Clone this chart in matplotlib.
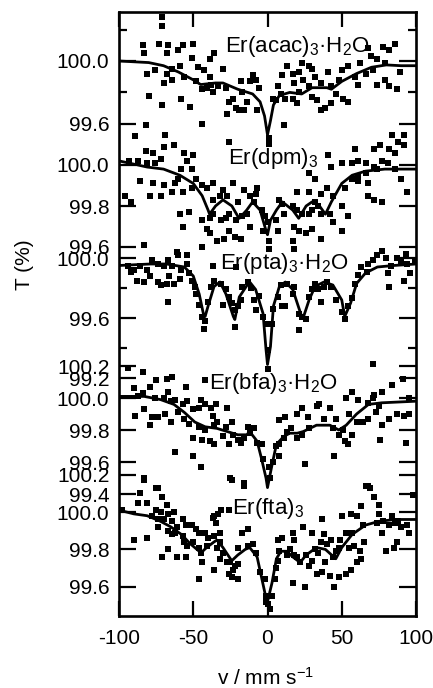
import matplotlib
matplotlib.use('Agg')
import matplotlib.pyplot as plt
from matplotlib.ticker import FixedLocator

plt.rcParams['font.family'] = ['Liberation Sans', 'DejaVu Sans']
plt.rcParams['mathtext.fontset'] = 'custom'
plt.rcParams['mathtext.rm'] = 'Liberation Sans'
plt.rcParams['mathtext.it'] = 'Liberation Sans:italic'
plt.rcParams['mathtext.bf'] = 'Liberation Sans:bold'
plt.rcParams['axes.unicode_minus'] = False

# ---------------- data ----------------
x_ticks = [-100, -50, 0, 50, 100]
x_ticklabels = ['-100', '-50', '0', '50', '100']

names = ['Er(acac)$_\\mathregular{3}$·H$_\\mathregular{2}$O',
         'Er(dpm)$_\\mathregular{3}$',
         'Er(pta)$_\\mathregular{3}$·H$_\\mathregular{2}$O',
         'Er(bfa)$_\\mathregular{3}$·H$_\\mathregular{2}$O',
         'Er(fta)$_\\mathregular{3}$']

# fitted curves (v, T%)
fit_acac = [(-100, 100.00), (-80, 99.99), (-70, 99.97), (-60, 99.93), (-50, 99.88), (-45, 99.85),
            (-35, 99.86), (-30, 99.86), (-20, 99.82), (-10, 99.79), (-5, 99.74), (-2, 99.65),
            (0, 99.53), (2, 99.62), (4, 99.72), (8, 99.78), (15, 99.80), (23, 99.79), (30, 99.83),
            (40, 99.83), (43, 99.82), (50, 99.87), (60, 99.92), (70, 99.96), (80, 99.975),
            (90, 99.97), (100, 99.97)]
fit_dpm = [(-100, 100.02), (-81, 99.99), (-70, 99.98), (-59, 99.95), (-50, 99.91), (-44, 99.85),
           (-40, 99.78), (-39, 99.76), (-35, 99.80), (-30, 99.83), (-24, 99.80), (-20, 99.75),
           (-19, 99.74), (-14, 99.78), (-10, 99.82), (-5, 99.78), (-1, 99.68), (0, 99.66),
           (2, 99.73), (6, 99.78), (10, 99.82), (17, 99.78), (21, 99.74), (26, 99.80), (30, 99.82),
           (35, 99.80), (39, 99.76), (43, 99.82), (50, 99.91), (57, 99.95), (66, 99.97),
           (79, 99.98), (100, 99.98)]
fit_pta = [(-100, 99.95), (-79, 99.96), (-68, 99.96), (-56, 99.94), (-50, 99.88), (-46, 99.76),
           (-43, 99.62), (-42, 99.61), (-40, 99.68), (-36, 99.81), (-32, 99.84), (-28, 99.76),
           (-23, 99.61), (-22, 99.59), (-19, 99.74), (-13, 99.83), (-12, 99.84), (-8, 99.79),
           (-3, 99.63), (-1, 99.39), (0, 99.29), (2, 99.41), (4, 99.68), (8, 99.81), (12, 99.84),
           (17, 99.79), (23, 99.61), (24, 99.60), (28, 99.72), (32, 99.81), (38, 99.84),
           (44, 99.82), (50, 99.72), (52, 99.61), (56, 99.70), (60, 99.83), (66, 99.90),
           (74, 99.94), (85, 99.95), (100, 99.96)]
fit_bfa = [(-100, 100.01), (-83, 100.01), (-72, 99.99), (-63, 99.96), (-56, 99.91), (-49, 99.85),
           (-42, 99.82), (-34, 99.81), (-27, 99.79), (-20, 99.77), (-14, 99.77), (-12, 99.79),
           (-7, 99.73), (-4, 99.62), (-1, 99.50), (0, 99.44), (3, 99.58), (6, 99.71), (11, 99.76),
           (15, 99.78), (20, 99.78), (24, 99.79), (33, 99.83), (42, 99.83), (48, 99.80),
           (53, 99.83), (60, 99.90), (68, 99.96), (77, 99.97), (100, 99.98)]
fit_fta = [(-100, 100.01), (-90, 99.99), (-81, 99.98), (-72, 99.95), (-65, 99.92), (-58, 99.88),
           (-52, 99.83), (-46, 99.79), (-45, 99.78), (-41, 99.81), (-36, 99.84), (-34, 99.85),
           (-30, 99.81), (-25, 99.75), (-24, 99.74), (-20, 99.77), (-15, 99.80), (-12, 99.81),
           (-7, 99.76), (-4, 99.65), (-1, 99.54), (0, 99.52), (3, 99.62), (6, 99.75), (9, 99.79),
           (13, 99.79), (17, 99.76), (22, 99.73), (26, 99.77), (33, 99.81), (39, 99.80),
           (46, 99.75), (50, 99.81), (57, 99.88), (66, 99.93), (75, 99.95), (86, 99.96),
           (100, 99.96)]

# measured points (v, T%)
pts_acac = [(-71, 100.28), (-71, 100.22), (-84, 100.10), (-73, 100.11), (-67, 100.10), (-57, 100.10),
            (-50, 100.11), (-36, 100.05), (-83, 100.05), (-68, 100.05), (-60, 100.07), (-51, 100.02),
            (-39, 100.01), (-47, 99.96), (-30, 99.95), (-81, 99.92), (-76, 99.94), (-68, 99.92),
            (-64, 99.95), (-59, 99.97), (-56, 99.90), (-48, 99.87), (-43, 99.94), (-39, 99.90),
            (-38, 99.85), (-80, 99.78), (-70, 99.86), (-64, 99.88), (-58, 99.76), (-52, 99.71),
            (-44, 99.82), (-41, 99.83), (-37, 99.80), (-33, 99.84), (-28, 99.83), (-26, 99.74),
            (-27, 99.66), (-23, 99.76), (-21, 99.70), (-18, 99.87), (-17, 99.80), (-14, 99.74),
            (-12, 99.87), (-10, 99.91), (-8, 99.88), (-6, 99.83), (-7, 99.69), (-19, 99.69),
            (-16, 99.69), (-44, 99.60), (-71, 99.72), (-82, 99.59), (-89, 99.52), (-69, 99.53),
            (1, 99.51), (1, 99.47), (11, 99.59), (6, 99.75), (9, 99.79), (10, 99.91), (13, 99.97),
            (17, 99.92), (18, 99.86), (21, 99.93), (23, 99.99), (28, 99.97), (30, 99.95),
            (32, 99.90), (36, 99.86), (41, 99.93), (43, 99.84), (46, 99.79), (28, 99.84),
            (24, 99.88), (17, 99.76), (20, 99.73), (30, 99.77), (33, 99.75), (36, 99.69),
            (39, 99.70), (43, 99.73), (51, 99.76), (54, 99.74), (50, 99.94), (54, 99.97),
            (59, 99.90), (62, 99.99), (68, 100.08), (71, 99.94), (74, 100.01), (78, 100.09),
            (79, 99.99), (82, 100.07), (86, 100.11), (89, 99.93), (74, 99.85), (79, 99.88),
            (82, 99.84), (87, 99.82), (61, 99.85), (66, 99.92), (70, 100.03), (84, 99.53),
            (92, 99.53), (7, 99.84), (4, 99.76), (12, 99.76), (48, 99.88), (21, 99.80)]
pts_dpm = [(-70, 100.09), (-63, 100.10), (-82, 100.07), (-77, 100.06), (-87, 100.02), (-81, 100.01),
           (-76, 100.01), (-93, 100.02), (-72, 100.03), (-56, 100.06), (-50, 100.05), (-54, 100.02),
           (-58, 99.98), (-51, 99.98), (-26, 100.11), (1, 100.11), (-86, 99.92), (-77, 99.91),
           (-70, 99.90), (-96, 99.85), (-92, 99.82), (-79, 99.85), (-72, 99.85), (-64, 99.87),
           (-62, 99.91), (-60, 99.93), (-57, 99.87), (-51, 99.89), (-48, 99.93), (-44, 99.90),
           (-41, 99.89), (-37, 99.91), (-30, 99.88), (-37, 99.83), (-32, 99.85), (-27, 99.85),
           (-23, 99.91), (-20, 99.82), (-16, 99.88), (-12, 99.85), (-9, 99.82), (-8, 99.86),
           (-4, 99.78), (-39, 99.74), (-44, 99.73), (-37, 99.76), (-31, 99.73), (-28, 99.74),
           (-26, 99.76), (-21, 99.73), (-17, 99.75), (-14, 99.76), (-2, 99.75), (0, 99.72),
           (-3, 99.68), (1, 99.63), (8, 99.83), (10, 99.81), (11, 99.76), (6, 99.73), (7, 99.68),
           (17, 99.80), (20, 99.78), (23, 99.76), (28, 99.76), (30, 99.78), (32, 99.82),
           (34, 99.80), (36, 99.76), (18, 99.70), (21, 99.68), (26, 99.67), (30, 99.69),
           (36, 99.64), (42, 99.76), (44, 99.72), (50, 99.68), (50, 99.80), (54, 99.75),
           (36, 99.86), (40, 99.89), (44, 99.85), (52, 99.89), (57, 99.93), (61, 99.94),
           (61, 99.92), (66, 99.96), (68, 99.85), (72, 99.83), (77, 99.82), (68, 99.91),
           (72, 99.99), (74, 99.98), (77, 100.02), (81, 100.01), (86, 99.98), (90, 99.93),
           (94, 99.87), (92, 100.10), (88, 100.11), (86, 100.06), (82, 100.08), (76, 100.10),
           (72, 100.08), (59, 100.08), (41, 100.05), (43, 99.99), (50, 100.01), (57, 100.01),
           (61, 100.02), (66, 100.01), (32, 99.93), (28, 99.87), (20, 99.87), (28, 99.96),
           (-39, 99.67), (-34, 99.63), (-29, 99.64), (-22, 99.65), (-18, 99.64), (1, 99.59),
           (-83, 99.61), (-57, 99.70), (-53, 99.77), (-44, 99.60), (17, 99.63), (18, 99.59),
           (-59, 99.76), (-26, 99.68), (-12, 99.70), (-41, 99.69), (-7, 99.89)]
pts_pta = [(-90, 99.92), (-86, 99.95), (-81, 99.92), (-78, 99.99), (-74, 99.96), (-70, 99.95),
           (-67, 99.99), (-64, 99.95), (-61, 100.04), (-60, 100.02), (-54, 100.02), (-54, 99.96),
           (-88, 99.85), (-83, 99.84), (-79, 99.88), (-74, 99.84), (-72, 99.82), (-68, 99.83),
           (-66, 99.88), (-63, 99.83), (-59, 99.86), (-58, 99.92), (-67, 99.71), (-53, 99.90),
           (-51, 99.85), (-49, 99.81), (-48, 99.76), (-46, 99.69), (-44, 99.61), (-43, 99.53),
           (-42, 99.58), (-40, 99.71), (-38, 99.81), (-36, 99.85), (-31, 99.83), (-30, 99.69),
           (-28, 99.79), (-26, 99.74), (-24, 99.70), (-22, 99.65), (-22, 99.54), (-20, 99.68),
           (-18, 99.72), (-17, 99.81), (-13, 99.84), (-11, 99.80), (-9, 99.72), (-8, 99.65),
           (-6, 99.75), (-3, 99.61), (-1, 99.56), (0, 99.39), (0, 99.26), (3, 99.56), (4, 99.66),
           (7, 99.74), (9, 99.82), (10, 99.68), (12, 99.68), (13, 99.83), (17, 99.76), (18, 99.81),
           (21, 99.63), (21, 99.52), (23, 99.61), (26, 99.59), (28, 99.74), (30, 99.79),
           (32, 99.83), (34, 99.79), (36, 99.71), (38, 99.81), (40, 99.84), (43, 99.81),
           (46, 99.72), (50, 99.64), (52, 99.59), (54, 99.68), (57, 99.73), (59, 99.83),
           (61, 99.89), (63, 99.94), (67, 99.91), (68, 99.96), (71, 99.99), (74, 100.02),
           (77, 100.05), (80, 100.00), (83, 99.95), (87, 100.00), (90, 99.98), (93, 100.03),
           (94, 99.96), (96, 99.90), (81, 99.90), (82, 99.81), (92, 99.85), (99, 99.99),
           (-37, 99.95), (-21, 99.94), (-94, 99.95), (-92, 99.91)]
pts_bfa = [(-94, 100.19), (-84, 100.16), (-75, 100.11), (-68, 100.12), (-64, 100.13), (-55, 100.07),
           (-42, 100.11), (-90, 100.06), (-87, 100.01), (-84, 100.03), (-79, 100.07), (-76, 100.00),
           (-70, 100.00), (-67, 100.04), (-65, 99.98), (-62, 99.99), (-57, 99.96), (-54, 99.98),
           (-50, 99.93), (-46, 99.94), (-42, 99.96), (-38, 99.94), (-35, 99.96), (-89, 99.89),
           (-83, 99.93), (-79, 99.83), (-78, 99.88), (-74, 99.88), (-69, 99.90), (-65, 99.85),
           (-60, 99.91), (-56, 99.87), (-53, 99.84), (-50, 99.75), (-46, 99.82), (-44, 99.74),
           (-42, 99.80), (-39, 99.73), (-37, 99.89), (-36, 99.71), (-34, 99.85), (-30, 99.76),
           (-28, 99.82), (-26, 99.71), (-24, 99.85), (-23, 99.77), (-20, 99.74), (-18, 99.72),
           (-16, 99.75), (-13, 99.82), (-12, 99.78), (-9, 99.81), (-7, 99.72), (-4, 99.71),
           (-3, 99.62), (1, 99.57), (4, 99.60), (6, 99.70), (8, 99.71), (11, 99.75), (12, 99.88),
           (13, 99.79), (16, 99.81), (20, 99.75), (23, 99.77), (20, 99.90), (23, 99.94),
           (27, 99.88), (28, 99.81), (33, 99.95), (35, 99.96), (38, 99.87), (42, 99.94),
           (44, 99.81), (46, 99.87), (48, 99.77), (51, 99.80), (52, 99.73), (54, 99.71),
           (57, 99.77), (60, 99.85), (55, 99.90), (53, 100.00), (57, 100.04), (61, 99.99),
           (64, 99.85), (68, 99.87), (73, 99.91), (68, 99.97), (71, 100.00), (75, 99.95),
           (77, 99.83), (82, 99.87), (87, 99.90), (92, 99.89), (95, 99.90), (72, 100.02),
           (77, 100.04), (84, 100.08), (91, 100.12), (95, 100.00), (71, 100.21), (45, 99.64),
           (25, 99.59), (8, 99.64), (-36, 99.83), (-62, 99.66), (-50, 99.64), (-45, 99.57),
           (-25, 99.50), (-16, 99.47), (-83, 99.50), (-75, 99.44), (66, 99.45), (76, 99.74),
           (93, 99.72), (-45, 99.99), (-27, 99.94), (8, 99.86), (2, 99.50)]
pts_fta = [(-98, 100.01), (-83, 100.17), (-74, 100.13), (-86, 100.10), (-81, 100.05), (-87, 100.05),
           (-71, 100.08), (-68, 100.04), (-75, 100.01), (-72, 100.00), (-67, 99.99), (-63, 100.00),
           (-78, 99.98), (-74, 99.96), (-70, 99.96), (-64, 99.95), (-61, 99.92), (-57, 99.96),
           (-55, 99.93), (-90, 99.85), (-81, 99.86), (-74, 99.92), (-67, 99.90), (-64, 99.88),
           (-62, 99.89), (-57, 99.87), (-56, 99.84), (-54, 99.82), (-51, 99.93), (-48, 99.91),
           (-46, 99.89), (-44, 99.89), (-42, 99.89), (-40, 99.86), (-50, 99.84), (-46, 99.81),
           (-45, 99.78), (-44, 99.73), (-41, 99.82), (-36, 99.87), (-34, 99.81), (-32, 99.84),
           (-30, 99.78), (-27, 99.73), (-25, 99.73), (-23, 99.69), (-22, 99.71), (-20, 99.72),
           (-36, 99.69), (-32, 99.75), (-26, 99.67), (-24, 99.65), (-20, 99.64), (-71, 99.76),
           (-67, 99.80), (-61, 99.76), (-55, 99.76), (-46, 99.64), (-37, 99.97), (-36, 99.98),
           (-35, 99.94), (-33, 99.99), (-31, 100.01), (-26, 100.01), (-32, 99.89), (-24, 100.17),
           (-16, 100.14), (-17, 99.89), (-13, 99.91), (-20, 99.81), (-13, 99.82), (-10, 99.83),
           (-8, 99.78), (-5, 99.68), (-2, 99.64), (-1, 99.55), (0, 99.51), (2, 99.48), (-1, 99.52),
           (3, 99.55), (5, 99.64), (6, 99.70), (7, 99.74), (8, 99.79), (7, 99.85), (10, 99.86),
           (13, 99.77), (15, 99.80), (17, 99.89), (18, 99.85), (18, 99.77), (20, 99.76),
           (22, 99.73), (24, 99.92), (26, 99.77), (28, 99.71), (30, 99.89), (32, 99.80),
           (34, 99.78), (36, 99.84), (38, 99.88), (37, 99.96), (40, 99.83), (43, 99.85),
           (44, 99.76), (46, 99.79), (48, 99.81), (49, 99.85), (50, 99.98), (56, 99.99),
           (57, 99.89), (53, 99.89), (55, 99.81), (58, 99.82), (62, 99.79), (63, 100.03),
           (60, 99.98), (64, 99.93), (65, 99.84), (68, 100.14), (69, 100.13), (72, 100.08),
           (75, 99.99), (77, 99.89), (75, 100.04), (74, 99.94), (78, 99.95), (82, 99.93),
           (84, 99.98), (86, 99.94), (88, 99.95), (90, 99.92), (94, 99.93), (98, 100.09),
           (87, 99.84), (85, 99.81), (80, 99.79), (95, 99.89), (17, 99.62), (25, 99.60),
           (33, 99.67), (37, 99.68), (42, 99.66), (45, 99.60), (48, 99.65), (53, 99.67),
           (63, 99.75), (60, 99.73), (56, 99.69), (30, 99.74), (39, 99.73)]

fits = [fit_acac, fit_dpm, fit_pta, fit_bfa, fit_fta]
points = [pts_acac, pts_dpm, pts_pta, pts_bfa, pts_fta]

# y tick values per panel (labelled / unlabelled)
major_ticks = [[100.0, 99.6], [100.0, 99.8, 99.6], [100.0, 99.6, 99.2],
               [100.2, 100.0, 99.8, 99.6, 99.4], [100.2, 100.0, 99.8, 99.6]]
minor_ticks = [[100.2, 99.8], [], [99.8, 99.4], [], []]

# ---------------- layout ----------------
W, H = 433, 688
L, R, T, B = 119, 416, 12, 616
# pixel row of 100.0 and pixels per 1 % for each panel
p100 = [61, 165, 258, 398, 512]
pscale = [157, 205, 150, 160, 187]
label_pos = [(20, 100.09), (4, 100.03), (11, 99.965), (4, 100.09), (0, 100.02)]

fig = plt.figure(figsize=(W / 100, H / 100), dpi=100)
rect = [L / W, 1 - B / H, (R - L) / W, (B - T) / H]

FS = 15
for i in range(5):
    ax = fig.add_axes(rect, label=f'p{i}')
    top = 100 + (p100[i] - T) / pscale[i]
    bot = 100 - (B - p100[i]) / pscale[i]
    ax.set_xlim(-100, 100)
    ax.set_ylim(bot, top)
    xs = [p[0] for p in points[i]]
    ys = [p[1] for p in points[i]]
    ax.plot(xs, ys, 's', color='black', ms=3.9, mew=0, clip_on=True)
    fx = [p[0] for p in fits[i]]
    fy = [p[1] for p in fits[i]]
    ax.plot(fx, fy, '-', color='black', lw=2.0)
    ax.text(label_pos[i][0], label_pos[i][1], names[i], fontsize=16,
            ha='center', va='center', color='black')
    ax.yaxis.set_major_locator(FixedLocator(major_ticks[i]))
    ax.yaxis.set_minor_locator(FixedLocator(minor_ticks[i]))
    ax.set_yticklabels([f'{v:.1f}' for v in major_ticks[i]])
    ax.tick_params(axis='y', which='major', direction='in', length=12, width=1.6,
                   left=True, right=True, labelsize=FS, pad=7)
    ax.tick_params(axis='y', which='minor', direction='in', length=6, width=1.6,
                   left=True, right=True)
    if i == 0:
        ax.set_xticks(x_ticks)
        ax.set_xticklabels(x_ticklabels)
        ax.tick_params(axis='x', which='major', direction='in', length=11, width=1.6,
                       top=True, bottom=True, labelsize=FS, pad=9)
        for s in ax.spines.values():
            s.set_linewidth(1.9)
    else:
        ax.patch.set_visible(False)
        ax.tick_params(axis='x', which='both', bottom=False, top=False, labelbottom=False)
        for s in ax.spines.values():
            s.set_visible(False)

fig.text(25 / W, 1 - 265 / H, 'T (%)', rotation=90, fontsize=FS, ha='center', va='center')
fig.text(265 / W, 1 - 678 / H, 'v / mm s$^\\mathregular{-1}$', fontsize=FS, ha='center', va='center')

fig.savefig('out.png', dpi=100)
